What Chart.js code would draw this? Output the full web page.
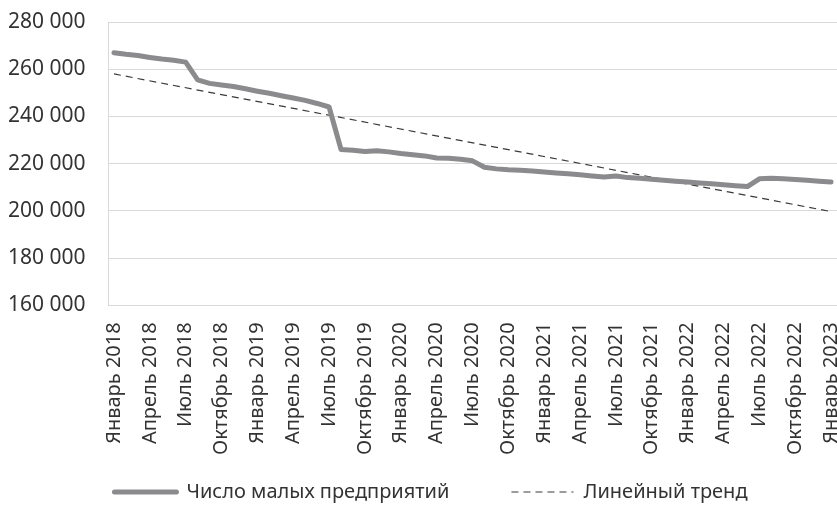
<!DOCTYPE html>
<html lang="ru">
<head>
<meta charset="utf-8">
<script src="https://cdn.jsdelivr.net/npm/chart.js@4.4.0/dist/chart.umd.min.js"></script>
<style>
  html, body { margin: 0; padding: 0; background: #fff; }
  #wrap { width: 837px; height: 507px; }
</style>
</head>
<body>
<div id="wrap"><canvas id="smallBizChart"></canvas></div>
<script>
// Month names for category labels
const monthNames = ['Январь', 'Февраль', 'Март', 'Апрель', 'Май', 'Июнь',
    'Июль', 'Август', 'Сентябрь', 'Октябрь', 'Ноябрь', 'Декабрь'];
const years = [2018, 2019, 2020, 2021, 2022, 2023];

// Number of small enterprises, monthly, Jan 2018 .. Jan 2023
const smallEnterprises = [
    267000, 266300, 265800, 265000, 264300, 263800, 263000, 255500, 254000, 253300, 252700, 251700,
    250700, 249800, 248800, 247800, 246800, 245500, 244000, 226000, 225700, 225200, 225500, 225000,
    224300, 223800, 223300, 222400, 222300, 221900, 221200, 218500, 217800, 217400, 217200, 216900,
    216500, 216100, 215700, 215300, 214800, 214400, 214800, 214100, 213800, 213400, 213000, 212600,
    212200, 211800, 211500, 211100, 210700, 210300, 213600, 213800, 213600, 213300, 213000, 212600,
    212200
];

// Linear trend: value at first and last month
const trendEnds = [258000, 199700];

const seriesNames = ['Число малых предприятий', 'Линейный тренд'];

// Build "Месяц Год" labels for every month
const labels = [];
years.forEach(y => {
    monthNames.forEach(m => {
        if (labels.length < smallEnterprises.length) labels.push(m + ' ' + y);
    });
});

// trend only has its two end points, the line spans the gaps
const trendData = smallEnterprises.map(() => null);
trendData[0] = trendEnds[0];
trendData[trendData.length - 1] = trendEnds[1];

function formatThousands(v) {
    return String(v).replace(/\B(?=(\d{3})+(?!\d))/g, ' ');
}

const gridColor = '#d9d9d9';
const textColor = '#333333';

const ctx = document.getElementById('smallBizChart').getContext('2d');
const chart = new Chart(ctx, {
    type: 'line',
    data: {
        labels: labels,
        datasets: [
            {
                label: seriesNames[0],
                data: smallEnterprises,
                borderColor: '#8b8b8e',
                backgroundColor: '#8b8b8e',
                borderWidth: 5,
                pointRadius: 0,
                tension: 0,
                borderJoinStyle: 'round',
                borderCapStyle: 'round'
            },
            {
                label: seriesNames[1],
                data: trendData,
                spanGaps: true,
                borderColor: '#3a3a3a',
                backgroundColor: 'rgba(0,0,0,0)',
                borderWidth: 1.2,
                borderDash: [7, 5],
                pointRadius: 0
            }
        ]
    },
    options: {
        responsive: true,
        maintainAspectRatio: false,
        animation: false,
        layout: {
            padding: { left: 25, right: 0, top: 22, bottom: -5 }
        },
        plugins: {
            tooltip: { enabled: false },
            legend: {
                position: 'bottom',
                labels: {
                    color: textColor,
                    font: { family: 'Noto Sans', size: 20 },
                    usePointStyle: true,
                    pointStyleWidth: 62,
                    padding: 10,
                    // line samples styled like the datasets, and a wider gap after the first item
                    generateLabels: function (chart) {
                        const items = Chart.defaults.plugins.legend.labels.generateLabels(chart);
                        items.forEach(it => {
                            const ds = chart.data.datasets[it.datasetIndex];
                            it.pointStyle = 'line';
                            it.strokeStyle = ds.borderColor;
                            it.lineWidth = ds.borderWidth;
                            it.lineDash = ds.borderDash || [];
                            it.lineCap = ds.borderCapStyle || 'butt';
                        });
                        items[0].text = items[0].text + '\u00a0'.repeat(10);
                        return items;
                    }
                }
            }
        },
        scales: {
            x: {
                offset: true,
                grid: { display: false, drawTicks: false },
                border: { display: true, color: gridColor, width: 1 },
                afterFit: function (scale) {
                    scale.paddingLeft = 0;
                    scale.paddingRight = 0;
                },
                ticks: {
                    autoSkip: false,
                    minRotation: 90,
                    maxRotation: 90,
                    padding: 17,
                    color: textColor,
                    font: { family: 'Noto Sans', size: 20 },
                    callback: function (value, index) {
                        return index % 3 === 0 ? labels[index] : null;
                    }
                }
            },
            y: {
                min: 160000,
                max: 280000,
                afterFit: function (scale) { scale.width = 83; },
                grid: { color: gridColor, drawTicks: false },
                border: { display: true, color: gridColor },
                ticks: {
                    stepSize: 20000,
                    mirror: true,
                    padding: -100,
                    color: textColor,
                    font: { family: 'Noto Sans', size: 21 },
                    callback: v => formatThousands(v)
                }
            }
        }
    }
});
</script>
</body>
</html>
